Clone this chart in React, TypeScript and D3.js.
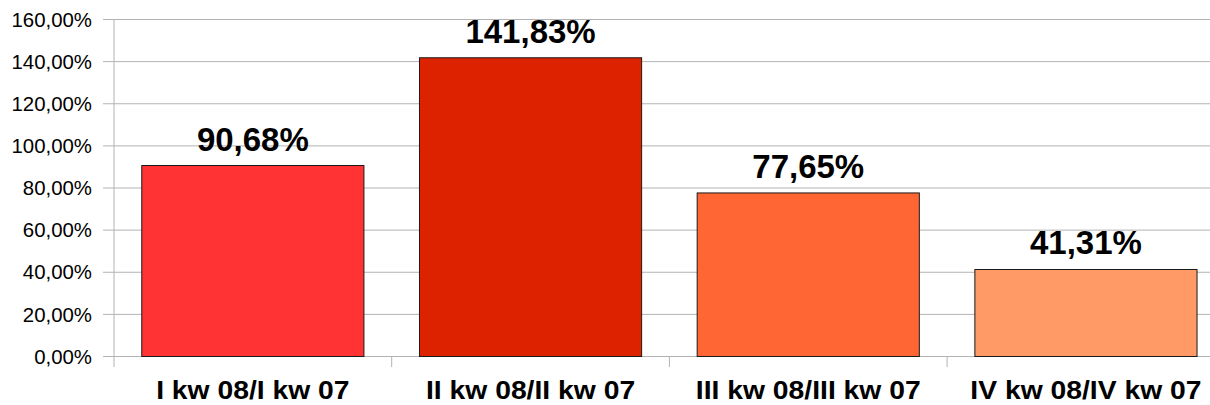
import React from "react";
import * as d3 from "d3";

const categories = ["I kw 08/I kw 07", "II kw 08/II kw 07", "III kw 08/III kw 07", "IV kw 08/IV kw 07"];
const values = [90.68, 141.83, 77.65, 41.31];
const valueLabels = ["90,68%", "141,83%", "77,65%", "41,31%"];
const colors = ["#ff3333", "#dd2200", "#ff6633", "#ff9966"];
const yTicks = [0, 20, 40, 60, 80, 100, 120, 140, 160];

const W = 1210;
const H = 405;
const left = 114;
const top = 19.5;
const bottom = 356.5;
const step = 277.7;

export default function App() {
  const x = d3
    .scaleBand<string>()
    .domain(categories)
    .range([left, left + step * categories.length])
    .paddingInner(0.2)
    .paddingOuter(0.1);
  const y = d3.scaleLinear().domain([0, 160]).range([bottom, top]);
  const fmt = (v: number) => v.toFixed(2).replace(".", ",") + "%";
  const font = "'Liberation Sans', Arial, sans-serif";

  return (
    <svg
      width={W}
      height={H}
      style={{ position: "absolute", left: 0, top: 0, background: "#fff" }}
      fontFamily={font}
    >
      {yTicks.map((t) => (
        <g key={t}>
          <line x1={103} x2={W} y1={y(t)} y2={y(t)} stroke="#b3b3b3" strokeWidth={1} />
          <text
            transform={`translate(92,${y(t)}) scale(1.02,1)`}
            dy="0.36em"
            textAnchor="end"
            fontSize={20}
            fill="#000"
          >
            {fmt(t)}
          </text>
        </g>
      ))}
      <line x1={left} x2={left} y1={top} y2={367} stroke="#b3b3b3" strokeWidth={1} />
      {categories.map((c, i) => (
        <line
          key={"t" + i}
          x1={left + step * (i + 1)}
          x2={left + step * (i + 1)}
          y1={bottom}
          y2={367}
          stroke="#b3b3b3"
          strokeWidth={1}
        />
      ))}
      {categories.map((c, i) => (
        <g key={c}>
          <rect
            x={x(c)!}
            y={y(values[i])}
            width={x.bandwidth()}
            height={bottom - y(values[i])}
            fill={colors[i]}
            stroke="#1a1a1a"
            strokeWidth={1}
          />
          <text
            x={x(c)! + x.bandwidth() / 2}
            y={y(values[i]) - 15}
            textAnchor="middle"
            fontSize={33}
            fontWeight="bold"
            fill="#000"
          >
            {valueLabels[i]}
          </text>
          <text
            transform={`translate(${x(c)! + x.bandwidth() / 2},399) scale(1.11,1)`}
            textAnchor="middle"
            fontSize={25.5}
            fontWeight="bold"
            fill="#000"
          >
            {c}
          </text>
        </g>
      ))}
    </svg>
  );
}
